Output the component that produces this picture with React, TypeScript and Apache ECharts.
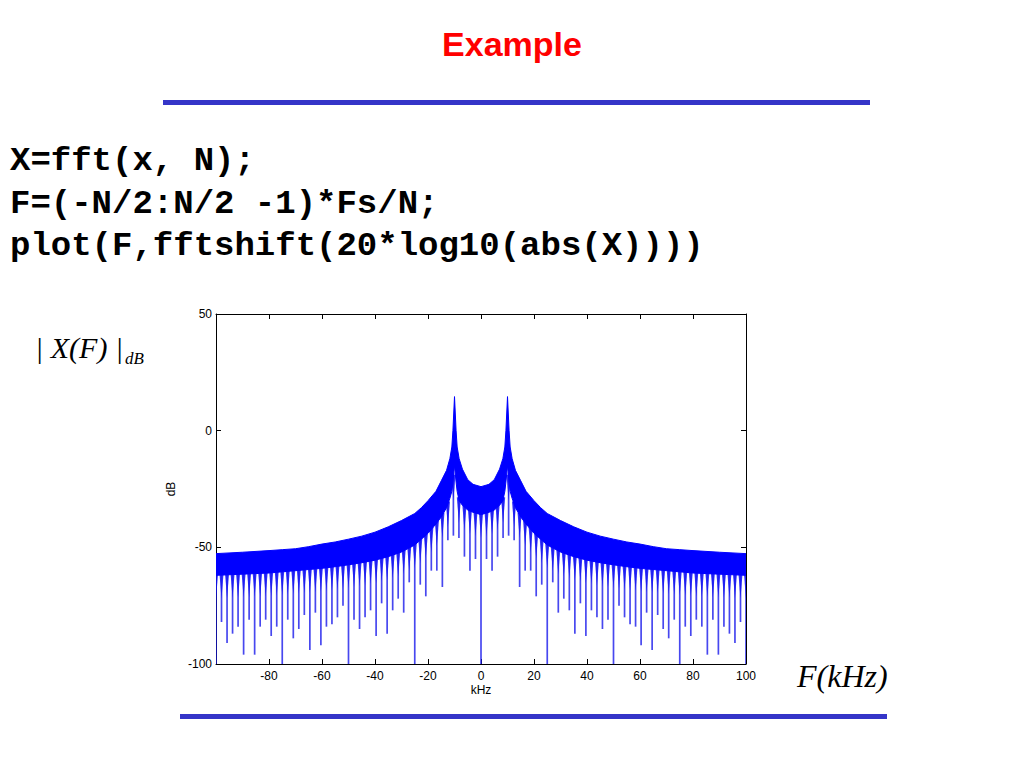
import { useEffect, useRef } from 'react';
import * as echarts from 'echarts';

// Frequencies (kHz) at which the spectrum envelopes were read
const envFreq = [
  -100, -90, -80, -75, -70, -65, -60, -55, -50, -45, -40, -35, -30, -25, -22.5, -20, -17, -15, -13, -11.75, -11, -10.6, -10, -9.4, -9, -8.25, -7, -5, -3,
  0,
  3, 5, 7, 8.25, 9, 9.4, 10, 10.6, 11, 11.75, 13, 15, 17, 20, 22.5, 25, 30, 35, 40, 45, 50, 55, 60, 65, 70, 75, 80, 90, 100,
];
// Upper edge of the dense spectrum (dB)
const topEnv = [
  -52.7, -52.1, -51.4, -51, -50.6, -49.7, -48.6, -47.7, -46.5, -45.2, -43.5, -41.2, -38.5, -35.5, -33, -30, -26, -21.5, -17, -12, -7, 0, 14.6, 0, -7, -12, -16.5, -21, -23,
  -24,
  -23, -21, -16.5, -12, -7, 0, 14.6, 0, -7, -12, -17, -21.5, -26, -30, -33, -35.5, -38.5, -41.2, -43.5, -45.2, -46.5, -47.7, -48.6, -49.7, -50.6, -51, -51.4, -52.1, -52.7,
];
// Lower edge of the solid part of the spectrum (dB)
const bottomEnv = [
  -62, -61.5, -61, -60.5, -60, -59.5, -59, -58.3, -57.5, -56.6, -55.5, -54, -52, -49, -46.5, -44, -40, -37, -33, -29, -26, -22, -15, -22, -26, -30, -32, -34, -35,
  -36,
  -35, -34, -32, -30, -26, -22, -15, -22, -26, -29, -33, -37, -40, -44, -46.5, -49, -52, -54, -55.5, -56.6, -57.5, -58.3, -59, -59.5, -60, -60.5, -61, -61.5, -62,
];
// Frequencies (kHz) of the downward nulls
const dipFreq = [
  -100, -97.92, -95.83, -93.75, -91.67, -89.58, -87.5, -85.42, -83.33, -81.25, -79.17, -77.08, -75, -72.92, -70.83, -68.75,
  -66.67, -64.58, -62.5, -60.42, -58.33, -56.25, -54.17, -52.08, -50, -47.92, -45.83, -43.75, -41.67, -39.58, -37.5, -35.42,
  -33.33, -31.25, -29.17, -27.08, -25, -22.92, -20.83, -18.75, -16.67, -14.58, -12.5, -10.42, -8.33, -6.25, -4.17, -2.08,
  0,
  2.08, 4.17, 6.25, 8.33, 10.42, 12.5, 14.58, 16.67, 18.75, 20.83, 22.92, 25, 27.08, 29.17, 31.25, 33.33,
  35.42, 37.5, 39.58, 41.67, 43.75, 45.83, 47.92, 50, 52.08, 54.17, 56.25, 58.33, 60.42, 62.5, 64.58, 66.67,
  68.75, 70.83, 72.92, 75, 77.08, 79.17, 81.25, 83.33, 85.42, 87.5, 89.58, 91.67, 93.75, 95.83, 97.92, 100,
];
// Depth (dB) reached by each null
const dipDepth = [
  -100, -82, -91, -87, -84, -96, -81, -96, -84, -81, -88, -84, -100, -81, -89, -85,
  -79, -94, -78, -92, -84, -83, -80, -75, -100, -81, -85, -80, -77, -88, -74, -87,
  -77, -72, -78, -65, -100, -66, -71, -60, -60, -67, -47, -45, -46, -54, -60, -55,
  -100,
  -55, -60, -54, -46, -45, -47, -67, -60, -60, -71, -66, -100, -65, -78, -72, -77,
  -87, -74, -88, -77, -80, -85, -81, -100, -75, -80, -83, -84, -92, -78, -94, -79,
  -85, -89, -81, -100, -84, -88, -81, -84, -96, -81, -96, -84, -87, -91, -82, -100,
];

const xRange = [-100, 100];
const yRange = [-100, 50];
const xStep = 20;
const yStep = 50;

const codeLines = ['X=fft(x, N);', 'F=(-N/2:N/2 -1)*Fs/N;', 'plot(F,fftshift(20*log10(abs(X))))'];

function bottomAt(f: number): number {
  for (let i = 0; i < envFreq.length - 1; i++) {
    if (f >= envFreq[i] && f <= envFreq[i + 1]) {
      const t = (f - envFreq[i]) / (envFreq[i + 1] - envFreq[i]);
      return bottomEnv[i] + t * (bottomEnv[i + 1] - bottomEnv[i]);
    }
  }
  return f < envFreq[0] ? bottomEnv[0] : bottomEnv[bottomEnv.length - 1];
}

export default function App() {
  const ref = useRef<HTMLDivElement>(null);
  useEffect(() => {
    document.body.style.margin = '0';
    const chart = echarts.init(ref.current!, null, { renderer: 'svg' });
    const axisFont = { fontFamily: 'Liberation Sans, Arial, sans-serif', fontSize: 12, color: '#000' };
    const baseX = {
      type: 'value' as const,
      min: xRange[0],
      max: xRange[1],
      interval: xStep,
      splitLine: { show: false },
      axisLine: { show: true, onZero: false, lineStyle: { color: '#000', width: 1 } },
      axisTick: { show: true, inside: true, length: 5, lineStyle: { color: '#000' } },
    };
    const baseY = {
      type: 'value' as const,
      min: yRange[0],
      max: yRange[1],
      interval: yStep,
      splitLine: { show: false },
      axisLine: { show: true, onZero: false, lineStyle: { color: '#000', width: 1 } },
      axisTick: { show: true, inside: true, length: 5, lineStyle: { color: '#000' } },
    };
    const textEl = (t: string, x: number, y: number, font: string, fill: string, align = 'left') => ({
      type: 'text',
      x,
      y,
      style: { text: t, font, fill, textAlign: align, align, textVerticalAlign: 'middle', verticalAlign: 'middle' },
    });
    chart.setOption({
      animation: false,
      grid: { left: 216, top: 314, width: 530, height: 350, containLabel: false },
      xAxis: [
        {
          ...baseX,
          position: 'bottom',
          name: 'kHz',
          nameLocation: 'middle',
          nameGap: 20,
          nameTextStyle: axisFont,
          axisLabel: { ...axisFont, margin: 6, formatter: (v: number) => (v === xRange[0] ? '' : String(v)) },
        },
        { ...baseX, position: 'top', axisLabel: { show: false } },
      ],
      yAxis: [
        {
          ...baseY,
          position: 'left',
          name: 'dB',
          nameLocation: 'middle',
          nameGap: 35,
          nameRotate: 90,
          nameTextStyle: axisFont,
          axisLabel: { ...axisFont, margin: 4 },
        },
        { ...baseY, position: 'right', axisLabel: { show: false } },
      ],
      series: [
        {
          // downward nulls of the spectrum
          type: 'custom',
          clip: true,
          z: 1,
          data: dipFreq.map((f, i) => [f, dipDepth[i]]),
          renderItem: (_params: any, api: any) => {
            const f = api.value(0);
            const d = api.value(1);
            const b = bottomAt(f);
            const start = api.coord([f, b + 2]);
            const end = api.coord([f, d]);
            const wl = api.coord([f - 0.8, b + 1]);
            const wr = api.coord([f + 0.8, b + 1]);
            const wt = api.coord([f, Math.max(d, b - 10)]);
            return {
              type: 'group',
              children: [
                { type: 'polygon', shape: { points: [wl, wr, wt] }, style: { fill: 'rgba(0,0,255,0.8)' } },
                {
                  type: 'line',
                  shape: { x1: start[0], y1: start[1], x2: end[0], y2: end[1] },
                  style: { stroke: 'rgba(25,25,235,0.8)', lineWidth: 1.7 },
                },
              ],
            };
          },
        },
        {
          // dense solid band between the upper and lower envelopes
          type: 'custom',
          clip: true,
          z: 2,
          data: envFreq.map((f, i) => [f, topEnv[i], bottomEnv[i]]),
          encode: { x: 0, y: [1, 2] },
          renderItem: (params: any, api: any) => {
            if (params.dataIndex !== 0) return null;
            const upper = envFreq.map((f, i) => api.coord([f, topEnv[i]]));
            const lower = envFreq.map((f, i) => api.coord([f, bottomEnv[i]])).reverse();
            return {
              type: 'polygon',
              shape: { points: upper.concat(lower) },
              style: { fill: '#0000ff', stroke: '#0000ff', lineWidth: 1 },
            };
          },
        },
      ],
      graphic: [
        textEl('Example', 512, 44, 'bold 34px "Liberation Sans", Arial, sans-serif', '#ff0000', 'center'),
        { type: 'rect', shape: { x: 163, y: 100, width: 707, height: 5 }, style: { fill: '#3535c8' } },
        ...codeLines.map((t, i) =>
          textEl(t, 10, 161 + i * 42.5, 'bold 34px "Liberation Mono", "Courier New", monospace', '#000')
        ),
        textEl('| X(F) |', 35, 347, 'italic 30px "Liberation Serif", "Times New Roman", serif', '#000'),
        textEl('dB', 125, 358, 'italic 17px "Liberation Serif", "Times New Roman", serif', '#000'),
        textEl('F(kHz)', 797, 676, 'italic 32px "Liberation Serif", "Times New Roman", serif', '#000'),
        { type: 'rect', shape: { x: 180, y: 714, width: 707, height: 5 }, style: { fill: '#3535c8' } },
      ],
    });
    return () => chart.dispose();
  }, []);
  return <div ref={ref} style={{ width: 1024, height: 768 }} />;
}
